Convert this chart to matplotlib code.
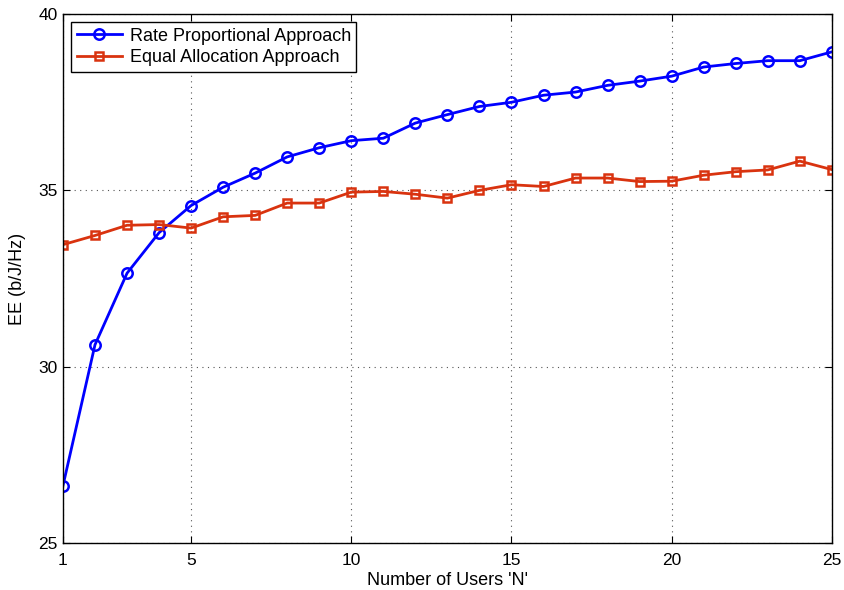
import numpy as np
import matplotlib.pyplot as plt

plt.rcParams['font.family'] = ['Liberation Sans', 'DejaVu Sans']

users = np.arange(1, 26)
rate_prop = [26.62, 30.62, 32.65, 33.80, 34.57, 35.09, 35.49, 35.95, 36.21, 36.41,
             36.48, 36.91, 37.15, 37.38, 37.50, 37.70, 37.79, 37.98, 38.10, 38.24,
             38.50, 38.60, 38.68, 38.68, 38.93]
equal_alloc = [33.46, 33.72, 34.01, 34.03, 33.93, 34.25, 34.29, 34.64, 34.64, 34.95,
               34.97, 34.89, 34.78, 35.00, 35.16, 35.11, 35.35, 35.35, 35.25, 35.26,
               35.43, 35.53, 35.58, 35.83, 35.59]
xticks = [1, 5, 10, 15, 20, 25]
yticks = [25, 30, 35, 40]

fig = plt.figure(figsize=(8.44, 5.90), dpi=100)
ax = fig.add_axes([0.0746, 0.080, 0.911, 0.896])

ax.plot(users, rate_prop, color='#0000FF', lw=2.0, marker='o', ms=7.5,
        mfc='none', mew=1.8, label='Rate Proportional Approach')
ax.plot(users, equal_alloc, color='#D9330F', lw=2.0, marker='s', ms=6,
        mfc='none', mew=1.8, label='Equal Allocation Approach')

ax.set_xlim(1, 25)
ax.set_ylim(25, 40)
ax.set_xticks(xticks)
ax.set_yticks(yticks)
ax.tick_params(direction='in', top=True, right=True, length=5, labelsize=12.5)
ax.tick_params(axis='x', pad=7)
ax.tick_params(axis='y', pad=4)
ax.grid(True, linestyle=(0, (1, 4)), color='#555555', lw=0.8)
for s in ax.spines.values():
    s.set_linewidth(1.0)

ax.set_xlabel("Number of Users 'N'", fontsize=13, labelpad=3)
ax.set_ylabel('EE (b/J/Hz)', fontsize=13, labelpad=9)

leg = ax.legend(loc='upper left', fontsize=13, fancybox=False, edgecolor='black',
                framealpha=1, borderaxespad=0.45, handlelength=2.5, handletextpad=0.45,
                borderpad=0.3, labelspacing=0.25)
leg.get_frame().set_linewidth(1.0)

fig.savefig('out.png', dpi=100)
